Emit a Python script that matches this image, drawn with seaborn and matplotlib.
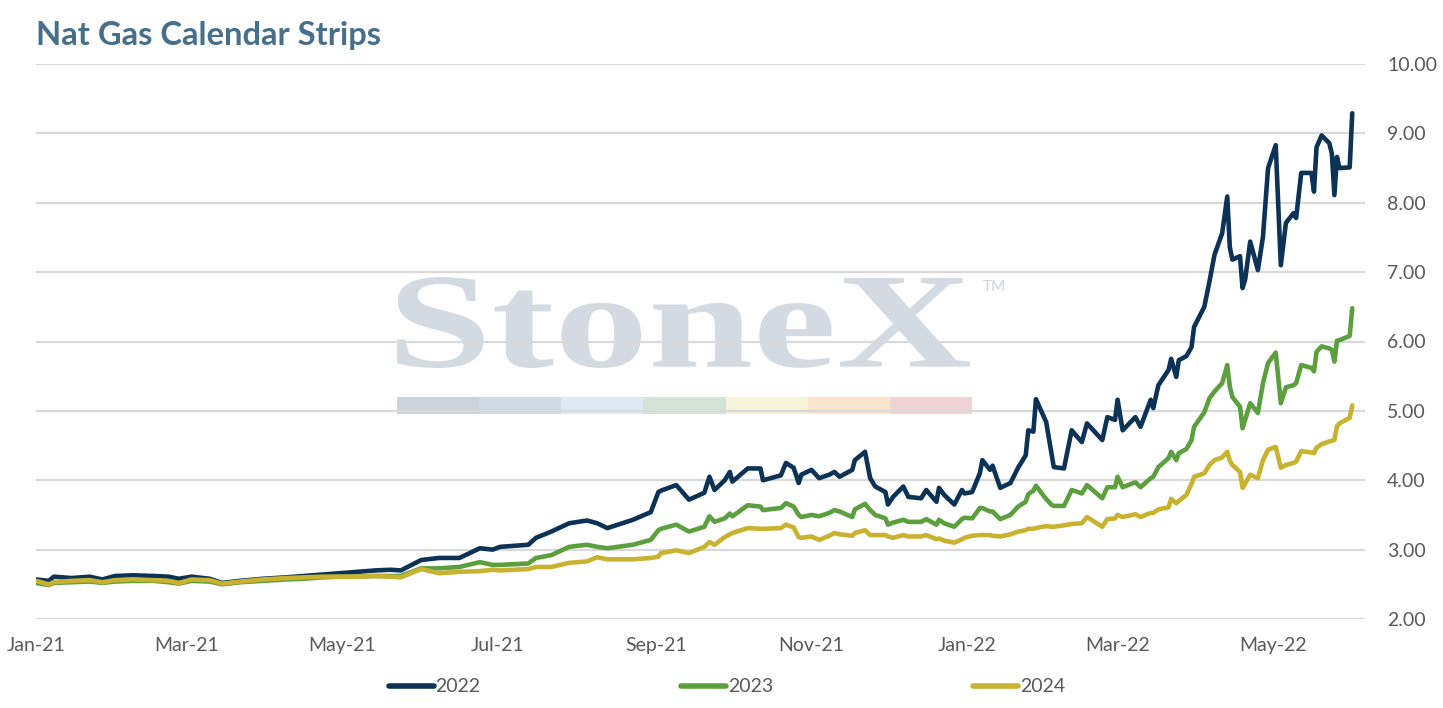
import matplotlib
matplotlib.use("Agg")
import matplotlib.pyplot as plt
import matplotlib.dates as mdates
from matplotlib.textpath import TextPath
from matplotlib.patches import PathPatch, Rectangle
from matplotlib.font_manager import FontProperties
from matplotlib.transforms import Affine2D
from matplotlib.lines import Line2D
import seaborn as sns
import pandas as pd

# ---------------- data ----------------
dates = [
    "2021-01-01", "2021-01-06", "2021-01-08", "2021-01-15", "2021-01-22", "2021-01-27", "2021-02-01", "2021-02-08", "2021-02-16", "2021-02-22",
    "2021-02-26", "2021-03-03", "2021-03-10", "2021-03-15", "2021-03-22", "2021-03-31", "2021-04-09", "2021-04-16", "2021-04-23", "2021-04-30",
    "2021-05-07", "2021-05-14", "2021-05-20", "2021-05-24", "2021-06-01", "2021-06-08", "2021-06-16", "2021-06-24", "2021-06-29", "2021-07-02",
    "2021-07-13", "2021-07-16", "2021-07-22", "2021-07-29", "2021-08-05", "2021-08-09", "2021-08-13", "2021-08-23", "2021-08-30", "2021-09-02",
    "2021-09-03", "2021-09-09", "2021-09-14", "2021-09-20", "2021-09-22", "2021-09-24", "2021-09-28", "2021-09-30", "2021-10-01", "2021-10-07",
    "2021-10-12", "2021-10-13", "2021-10-20", "2021-10-22", "2021-10-25", "2021-10-27", "2021-10-28", "2021-11-01", "2021-11-04", "2021-11-08",
    "2021-11-10", "2021-11-12", "2021-11-17", "2021-11-18", "2021-11-22", "2021-11-24", "2021-11-26", "2021-11-30", "2021-12-01", "2021-12-03",
    "2021-12-07", "2021-12-09", "2021-12-14", "2021-12-16", "2021-12-20", "2021-12-21", "2021-12-23", "2021-12-27", "2021-12-30", "2021-12-31",
    "2022-01-03", "2022-01-06", "2022-01-07", "2022-01-10", "2022-01-11", "2022-01-14", "2022-01-18", "2022-01-21", "2022-01-24", "2022-01-25",
    "2022-01-27", "2022-01-28", "2022-02-01", "2022-02-03", "2022-02-04", "2022-02-08", "2022-02-11", "2022-02-15", "2022-02-17", "2022-02-23",
    "2022-02-25", "2022-02-28", "2022-03-01", "2022-03-03", "2022-03-08", "2022-03-10", "2022-03-14", "2022-03-15", "2022-03-17", "2022-03-21",
    "2022-03-22", "2022-03-24", "2022-03-25", "2022-03-28", "2022-03-30", "2022-03-31", "2022-04-04", "2022-04-06", "2022-04-08", "2022-04-11",
    "2022-04-13", "2022-04-14", "2022-04-15", "2022-04-18", "2022-04-19", "2022-04-20", "2022-04-22", "2022-04-25", "2022-04-27", "2022-04-29",
    "2022-05-02", "2022-05-04", "2022-05-06", "2022-05-09", "2022-05-10", "2022-05-12", "2022-05-16", "2022-05-17", "2022-05-18", "2022-05-20",
    "2022-05-23", "2022-05-24", "2022-05-25", "2022-05-26", "2022-05-27", "2022-05-31", "2022-06-01",
]

strip_2022 = [
    2.57, 2.55, 2.61, 2.59, 2.61, 2.57, 2.62, 2.63, 2.62, 2.61,
    2.58, 2.61, 2.58, 2.52, 2.55, 2.58, 2.60, 2.62, 2.64, 2.66,
    2.68, 2.70, 2.71, 2.70, 2.85, 2.88, 2.88, 3.02, 3.00, 3.04,
    3.07, 3.17, 3.26, 3.38, 3.42, 3.38, 3.31, 3.43, 3.54, 3.83,
    3.85, 3.93, 3.72, 3.82, 4.05, 3.86, 4.00, 4.12, 3.98, 4.17,
    4.17, 4.00, 4.07, 4.25, 4.18, 3.96, 4.08, 4.15, 4.03, 4.08,
    4.12, 4.05, 4.15, 4.29, 4.41, 4.03, 3.91, 3.83, 3.65, 3.76,
    3.91, 3.76, 3.74, 3.86, 3.69, 3.89, 3.79, 3.65, 3.86, 3.81,
    3.83, 4.10, 4.29, 4.15, 4.21, 3.89, 3.96, 4.18, 4.36, 4.72,
    4.70, 5.17, 4.84, 4.41, 4.19, 4.17, 4.72, 4.55, 4.82, 4.58,
    4.91, 4.87, 5.16, 4.72, 4.91, 4.77, 5.16, 5.04, 5.37, 5.59,
    5.75, 5.49, 5.73, 5.79, 5.92, 6.21, 6.50, 6.86, 7.25, 7.56,
    8.09, 7.36, 7.18, 7.23, 6.77, 6.89, 7.44, 7.03, 7.51, 8.50,
    8.83, 7.10, 7.71, 7.85, 7.78, 8.43, 8.43, 8.16, 8.80, 8.97,
    8.86, 8.71, 8.11, 8.66, 8.50, 8.51, 9.29,
]

strip_2023 = [
    2.52, 2.49, 2.52, 2.53, 2.54, 2.52, 2.54, 2.55, 2.55, 2.53,
    2.51, 2.55, 2.54, 2.50, 2.53, 2.55, 2.57, 2.58, 2.60, 2.61,
    2.61, 2.62, 2.62, 2.62, 2.73, 2.73, 2.75, 2.82, 2.78, 2.78,
    2.80, 2.88, 2.92, 3.04, 3.07, 3.04, 3.02, 3.07, 3.14, 3.28,
    3.30, 3.36, 3.26, 3.33, 3.48, 3.40, 3.45, 3.52, 3.48, 3.64,
    3.62, 3.57, 3.60, 3.67, 3.62, 3.50, 3.47, 3.50, 3.48, 3.53,
    3.57, 3.55, 3.47, 3.58, 3.66, 3.57, 3.50, 3.45, 3.36, 3.39,
    3.43, 3.40, 3.40, 3.44, 3.36, 3.43, 3.38, 3.33, 3.44, 3.46,
    3.45, 3.60, 3.60, 3.55, 3.55, 3.44, 3.50, 3.62, 3.69, 3.80,
    3.85, 3.92, 3.73, 3.65, 3.63, 3.63, 3.86, 3.81, 3.93, 3.74,
    3.90, 3.90, 4.05, 3.90, 3.97, 3.90, 4.03, 4.05, 4.19, 4.32,
    4.41, 4.29, 4.39, 4.45, 4.58, 4.77, 4.98, 5.18, 5.28, 5.40,
    5.66, 5.35, 5.20, 5.06, 4.75, 4.87, 5.11, 4.97, 5.40, 5.69,
    5.84, 5.11, 5.34, 5.37, 5.40, 5.66, 5.62, 5.57, 5.85, 5.93,
    5.90, 5.88, 5.71, 6.01, 6.02, 6.08, 6.48,
]

strip_2024 = [
    2.55, 2.50, 2.53, 2.55, 2.56, 2.53, 2.56, 2.57, 2.56, 2.55,
    2.52, 2.57, 2.56, 2.51, 2.54, 2.57, 2.59, 2.60, 2.61, 2.61,
    2.61, 2.62, 2.61, 2.60, 2.72, 2.66, 2.68, 2.69, 2.71, 2.70,
    2.72, 2.75, 2.75, 2.81, 2.83, 2.89, 2.86, 2.86, 2.88, 2.90,
    2.95, 2.99, 2.95, 3.04, 3.11, 3.07, 3.18, 3.22, 3.24, 3.31,
    3.30, 3.30, 3.31, 3.36, 3.32, 3.18, 3.17, 3.19, 3.14, 3.20,
    3.24, 3.22, 3.20, 3.24, 3.28, 3.21, 3.21, 3.21, 3.19, 3.17,
    3.21, 3.19, 3.19, 3.21, 3.15, 3.16, 3.13, 3.10, 3.15, 3.17,
    3.20, 3.21, 3.21, 3.21, 3.20, 3.19, 3.22, 3.26, 3.28, 3.30,
    3.30, 3.31, 3.34, 3.33, 3.33, 3.35, 3.37, 3.38, 3.47, 3.33,
    3.44, 3.45, 3.50, 3.47, 3.51, 3.47, 3.53, 3.53, 3.58, 3.61,
    3.73, 3.67, 3.70, 3.79, 3.95, 4.05, 4.10, 4.22, 4.29, 4.33,
    4.41, 4.28, 4.22, 4.12, 3.89, 3.95, 4.08, 4.03, 4.29, 4.44,
    4.48, 4.18, 4.22, 4.25, 4.27, 4.42, 4.40, 4.39, 4.47, 4.52,
    4.56, 4.57, 4.58, 4.78, 4.82, 4.90, 5.08,
]

series_names = ["2022", "2023", "2024"]
series_colors = ["#0c3256", "#5c9f3f", "#c9b22f"]
y_ticks = [2, 3, 4, 5, 6, 7, 8, 9, 10]
title_text = "Nat Gas Calendar Strips"

# ---------------- build frame ----------------
wide = pd.DataFrame({"date": pd.to_datetime(dates),
                     "2022": strip_2022, "2023": strip_2023, "2024": strip_2024})
df = wide.melt(id_vars="date", var_name="strip", value_name="price")

# ---------------- figure ----------------
W, H = 1443, 708
sns.set_theme(style="white")
plt.rcParams["font.family"] = ["Lato", "DejaVu Sans"]

fig = plt.figure(figsize=(W / 100, H / 100), dpi=100)
ax = fig.add_axes([36 / W, 1 - 619 / H, (1365 - 36) / W, (619 - 64) / H])
ax.set_facecolor("none")

# watermark (behind everything)
fp = FontProperties(family="Liberation Serif", weight="bold")
tp = TextPath((0, 0), "StoneX", size=1, prop=fp)
ext = tp.get_extents()
x0, x1 = 397 / W, 970 / W
yb, yt = 1 - 368 / H, 1 - 277 / H
tr = Affine2D().translate(-ext.x0, -ext.y0).scale((x1 - x0) / ext.width, (yt - yb) / ext.height).translate(x0, yb)
wm = PathPatch(tp, transform=tr + fig.transFigure, facecolor="#d3dae1", edgecolor="none", zorder=0.1, clip_on=False)
ax.add_patch(wm)
fig.text(983 / W, 1 - 287 / H, "TM", fontsize=11, color="#ccd3dc", va="center", ha="left", zorder=0.1)
bar_colors = ["#cdd3db", "#d1dbe5", "#dde9f3", "#d4e3d8", "#f7f5d9", "#f9e6cc", "#f1d3d5"]
bx0, bx1 = 397, 972
seg = (bx1 - bx0) / len(bar_colors)
for i, c in enumerate(bar_colors):
    r = Rectangle(((bx0 + i * seg) / W, 1 - 414 / H), seg / W, 17 / H, transform=fig.transFigure,
                  facecolor=c, edgecolor="none", zorder=0.1, clip_on=False)
    ax.add_patch(r)

sns.lineplot(data=df, x="date", y="price", hue="strip", palette=dict(zip(series_names, series_colors)),
             linewidth=3.3, ax=ax, legend=False, zorder=3)
for ln in ax.get_lines():
    ln.set_solid_joinstyle("round")

ax.set_ylim(2, 10)
ax.set_xlim(pd.Timestamp("2021-01-01"), pd.Timestamp("2022-06-06"))
ax.set_yticks(y_ticks)
ax.set_yticklabels([f"{v:.2f}" for v in y_ticks])
ax.yaxis.tick_right()
ax.xaxis.set_major_locator(mdates.MonthLocator(bymonth=[1, 3, 5, 7, 9, 11]))
ax.xaxis.set_major_formatter(mdates.DateFormatter("%b-%y"))
ax.tick_params(axis="both", length=0, labelsize=14, labelcolor="#595959")
ax.tick_params(axis="y", pad=16)
ax.tick_params(axis="x", pad=13)
ax.set_xlabel("")
ax.set_ylabel("")
ax.grid(axis="y", color="#d9d9d9", linewidth=1.6, zorder=0.5)
ax.grid(axis="x", visible=False)
ax.set_axisbelow(True)
for s in ax.spines.values():
    s.set_visible(False)

# title
fig.text(36 / W, 1 - 36 / H, title_text, fontsize=23.6, fontweight="bold", color="#476f8b", ha="left", va="center")

# legend
handles = [Line2D([0], [0], color=c, linewidth=4, solid_capstyle="round") for c in series_colors]
fig.legend(handles, series_names, loc="center", bbox_to_anchor=(727 / W, 1 - 687 / H), ncol=3, frameon=False,
           fontsize=14, labelcolor="#595959", handlelength=2.3, handletextpad=0.1, columnspacing=10.3)

fig.savefig("out.png", dpi=100)
